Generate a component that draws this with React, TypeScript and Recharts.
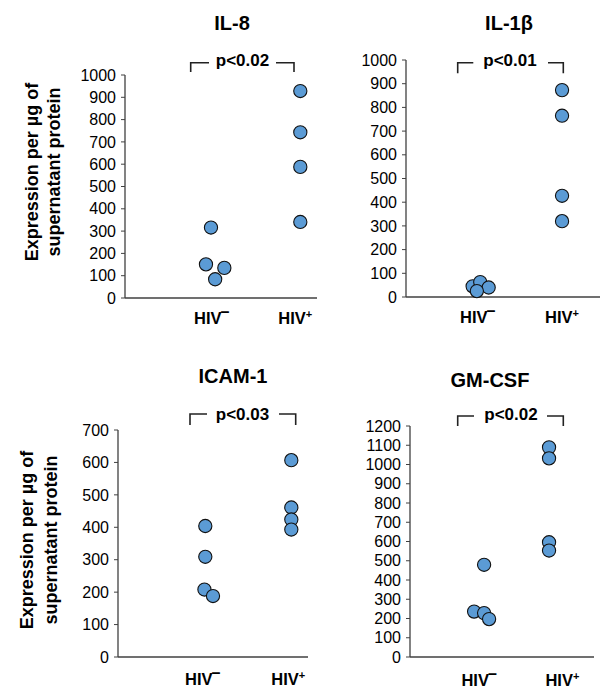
import React from 'react';
import { ScatterChart, Scatter, XAxis, YAxis } from 'recharts';

const FONT = '"Liberation Sans", Arial, sans-serif';

// group labels (last char drawn as superscript)
const groupLabels = ['HIV–', 'HIV+'];
const groupTicks = [1, 2];

// IL-8
const il8Neg = [316, 151, 135, 84];
const il8NegX = [0.99, 0.93, 1.15, 1.04];
const il8Pos = [928, 743, 588, 341];
const il8PosX = [2.06, 2.06, 2.06, 2.06];
const il8Ticks = [0, 100, 200, 300, 400, 500, 600, 700, 800, 900, 1000];

// IL-1β
const il1bNeg = [45, 63, 40, 25];
const il1bNegX = [0.94, 1.03, 1.13, 0.99];
const il1bPos = [873, 765, 427, 320];
const il1bPosX = [2.0, 2.0, 2.0, 2.0];
const il1bTicks = [0, 100, 200, 300, 400, 500, 600, 700, 800, 900, 1000];

// ICAM-1
const icamNeg = [404, 309, 208, 188];
const icamNegX = [1.03, 1.03, 1.02, 1.12];
const icamPos = [607, 461, 424, 393];
const icamPosX = [2.035, 2.035, 2.035, 2.035];
const icamTicks = [0, 100, 200, 300, 400, 500, 600, 700];

// GM-CSF
const gmNeg = [479, 236, 228, 197];
const gmNegX = [1.06, 0.94, 1.06, 1.12];
const gmPos = [1089, 1032, 596, 553];
const gmPosX = [1.84, 1.84, 1.84, 1.84];
const gmTicks = [0, 100, 200, 300, 400, 500, 600, 700, 800, 900, 1000, 1100, 1200];

const pValues = ['p<0.02', 'p<0.01', 'p<0.03', 'p<0.02'];
const titles = ['IL-8', 'IL-1β', 'ICAM-1', 'GM-CSF'];

const toPoints = (xs: number[], ys: number[]) => ys.map((y, i) => ({ x: xs[i], y }));

const Dot = (props: any) => (
  <circle cx={props.cx} cy={props.cy} r={6.6} fill="#5B9BD5" stroke="#111" strokeWidth={1.1} />
);

const GroupTick = (props: any) => {
  const { x, y, payload, dy } = props;
  const label = groupLabels[groupTicks.indexOf(payload.value)] || '';
  const base = label.slice(0, -1);
  const sign = label.slice(-1);
  return (
    <text x={x} y={y + dy} textAnchor="middle" fontFamily={FONT} fontWeight="bold" fontSize={16.5} fill="#000">
      {base}
      {sign === '+' ? (
        <tspan dy={-6} fontSize={11}>{sign}</tspan>
      ) : (
        <tspan dy={-7} dx={-1} fontSize={16}>{sign}</tspan>
      )}
    </text>
  );
};

interface PanelProps {
  left: number;
  top: number;
  width: number;
  height: number;
  margin: { top: number; right: number; bottom: number; left: number };
  xAxisHeight: number;
  xDomain: [number, number];
  yTicks: number[];
  labelDy: number;
  neg: { x: number; y: number }[];
  pos: { x: number; y: number }[];
}

const Panel: React.FC<PanelProps> = ({ left, top, width, height, margin, xAxisHeight, xDomain, yTicks, labelDy, neg, pos }) => (
  <div style={{ position: 'absolute', left, top }}>
    <ScatterChart width={width} height={height} margin={margin}>
      <XAxis
        type="number"
        dataKey="x"
        domain={xDomain}
        ticks={groupTicks}
        allowDataOverflow
        height={xAxisHeight}
        tickSize={0}
        tickMargin={0}
        axisLine={{ stroke: '#404040', strokeWidth: 1.3 }}
        tick={<GroupTick dy={labelDy} />}
      />
      <YAxis
        type="number"
        dataKey="y"
        width={60}
        domain={[yTicks[0], yTicks[yTicks.length - 1]]}
        ticks={yTicks}
        interval={0}
        tickSize={4}
        tickMargin={5}
        axisLine={{ stroke: '#404040', strokeWidth: 1.3 }}
        tickLine={{ stroke: '#404040' }}
        tick={{ fill: '#000', fontSize: 16, fontFamily: FONT }}
      />
      <Scatter data={neg} shape={<Dot />} isAnimationActive={false} />
      <Scatter data={pos} shape={<Dot />} isAnimationActive={false} />
    </ScatterChart>
  </div>
);

const Bracket = ({ x1, x2, yTop, yBot, gapL, gapR, text, textX, baseline }: any) => (
  <g>
    <polyline points={`${x1},${yBot} ${x1},${yTop} ${gapL},${yTop}`} fill="none" stroke="#222" strokeWidth={1.6} />
    <polyline points={`${gapR},${yTop} ${x2},${yTop} ${x2},${yBot}`} fill="none" stroke="#222" strokeWidth={1.6} />
    <text x={textX} y={baseline} textAnchor="middle" fontFamily={FONT} fontWeight="bold" fontSize={17} fill="#000">
      {text}
    </text>
  </g>
);

const YLabel = ({ x1, x2, cy }: any) => (
  <g fontFamily={FONT} fontWeight="bold" fontSize={18} fill="#000">
    <text transform={`translate(${x1},${cy}) rotate(-90)`} textAnchor="middle" dominantBaseline="central">
      Expression per µg of
    </text>
    <text transform={`translate(${x2},${cy}) rotate(-90)`} textAnchor="middle" dominantBaseline="central">
      supernatant protein
    </text>
  </g>
);

export default function App() {
  return (
    <div style={{ position: 'absolute', left: 0, top: 0, width: 603, height: 690, background: '#fff' }}>
      <Panel
        left={0} top={0} width={320} height={340}
        margin={{ top: 75, right: 3, bottom: 2, left: 65 }}
        xAxisHeight={40} xDomain={[-0.04, 2.26]} yTicks={il8Ticks} labelDy={26}
        neg={toPoints(il8NegX, il8Neg)} pos={toPoints(il8PosX, il8Pos)}
      />
      <Panel
        left={300} top={0} width={303} height={340}
        margin={{ top: 60, right: 3, bottom: 3, left: 46 }}
        xAxisHeight={40} xDomain={[0.15, 2.45]} yTicks={il1bTicks} labelDy={26}
        neg={toPoints(il1bNegX, il1bNeg)} pos={toPoints(il1bPosX, il1bPos)}
      />
      <Panel
        left={0} top={340} width={320} height={350}
        margin={{ top: 90, right: 12, bottom: 3, left: 58 }}
        xAxisHeight={30} xDomain={[0.01, 2.23]} yTicks={icamTicks} labelDy={28}
        neg={toPoints(icamNegX, icamNeg)} pos={toPoints(icamPosX, icamPos)}
      />
      <Panel
        left={300} top={340} width={303} height={350}
        margin={{ top: 86, right: 9, bottom: 3, left: 50 }}
        xAxisHeight={30} xDomain={[0.17, 2.38]} yTicks={gmTicks} labelDy={29}
        neg={toPoints(gmNegX, gmNeg)} pos={toPoints(gmPosX, gmPos)}
      />
      <svg width={603} height={690} style={{ position: 'absolute', left: 0, top: 0, pointerEvents: 'none' }}>
        <g fontFamily={FONT} fontWeight="bold" fontSize={20} fill="#000" textAnchor="middle">
          <text x={232} y={30}>{titles[0]}</text>
          <text x={509} y={30}>{titles[1]}</text>
          <text x={233} y={383}>{titles[2]}</text>
          <text x={490} y={387}>{titles[3]}</text>
        </g>
        <Bracket x1={190.7} x2={294} yTop={62.7} yBot={72} gapL={209} gapR={276} text={pValues[0]} textX={242.5} baseline={66} />
        <Bracket x1={457.7} x2={563.3} yTop={62.7} yBot={73.3} gapL={473.3} gapR={548} text={pValues[1]} textX={510} baseline={65.5} />
        <Bracket x1={190} x2={295.7} yTop={414} yBot={425} gapL={207} gapR={279} text={pValues[2]} textX={242.5} baseline={420} />
        <Bracket x1={457.7} x2={563.3} yTop={416} yBot={426} gapL={474} gapR={547} text={pValues[3]} textX={511} baseline={420} />
        <YLabel x1={32} x2={54} cy={172} />
        <YLabel x1={27} x2={51} cy={540} />
      </svg>
    </div>
  );
}
